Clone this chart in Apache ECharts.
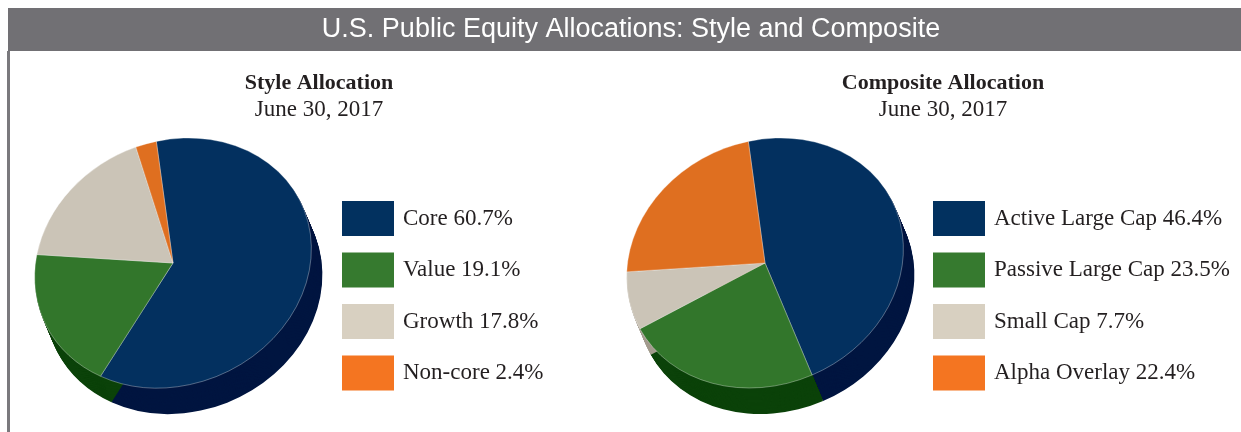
<!DOCTYPE html>
<html>
<head>
<meta charset="utf-8">
<script src="https://cdn.jsdelivr.net/npm/echarts@6/dist/echarts.min.js"></script>
<style>
  html, body { margin: 0; background: #fff; }
  #chart { width: 1241px; height: 432px; }
</style>
</head>
<body>
<div id="chart"></div>
<script>
// data
const styleNames = ['Core', 'Value', 'Growth', 'Non-core'];
const styleValues = [60.7, 19.1, 17.8, 2.4];
const compositeNames = ['Active Large Cap', 'Passive Large Cap', 'Small Cap', 'Alpha Overlay'];
const compositeValues = [46.4, 23.5, 7.7, 22.4];
const asOf = 'June 30, 2017';

// colours (same order as the slices)
const topColors = ['#03305f', '#32762b', '#cbc4b7', '#df6f20'];
const sideColors = ['#001540', '#0b4209', '#a39b8e', '#9c4a12'];
const legendColors = ['#02315f', '#367a2f', '#d8d0c1', '#f47521'];

const serif = '"Liberation Serif", "DejaVu Serif", serif';

const chart = echarts.init(document.getElementById('chart'));

// tilted pie: top sector + a stack of shifted dark copies for the rim
function pie3d(values, cx, cy) {
  const a = 141.5, b = 121.5, tilt = 24 * Math.PI / 180;
  const dx = 11, dy = 26, steps = 28;
  const total = values.reduce((s, v) => s + v, 0);
  return function (params, api) {
    const i = params.dataIndex;
    let before = 0;
    for (let k = 0; k < i; k++) before += values[k];
    const start = -76 * Math.PI / 180 + before / total * Math.PI * 2;
    const end = start + api.value(0) / total * Math.PI * 2;
    const shape = { cx: 0, cy: 0, r: a, r0: 0, startAngle: start, endAngle: end, clockwise: true };
    const children = [];
    for (let s = steps; s >= 1; s--) {
      children.push({
        type: 'sector',
        x: cx + dx * s / steps, y: cy + dy * s / steps,
        scaleY: b / a, rotation: tilt,
        shape: shape,
        style: { fill: sideColors[i] },
        z2: 1
      });
    }
    children.push({
      type: 'sector',
      x: cx, y: cy,
      scaleY: b / a, rotation: tilt,
      shape: shape,
      style: { fill: topColors[i], stroke: 'rgba(255,255,255,0.45)', lineWidth: 0.7 },
      z2: 10
    });
    return { type: 'group', children: children };
  };
}

// invisible pies only feed the legends
function legendPie(names, values) {
  return {
    type: 'pie',
    radius: [0, 0],
    center: [0, 0],
    silent: true,
    animation: false,
    label: { show: false },
    labelLine: { show: false },
    data: names.map((n, i) => ({ name: n, value: values[i], itemStyle: { color: legendColors[i] } }))
  };
}

function legendFor(names, values, left) {
  return {
    orient: 'vertical',
    left: left,
    top: 201,
    padding: 0,
    icon: 'rect',
    itemWidth: 52,
    itemHeight: 35,
    itemGap: 16.5,
    selectedMode: false,
    data: names,
    formatter: function (name) {
      return name + ' ' + values[names.indexOf(name)].toFixed(1) + '%';
    },
    textStyle: { fontFamily: serif, fontSize: 23, color: '#231f20', padding: [0, 0, 0, 4] }
  };
}

function subTitle(text, left) {
  return {
    text: text,
    subtext: asOf,
    left: left,
    top: 72,
    padding: 0,
    itemGap: 4,
    textAlign: 'center',
    textStyle: { fontFamily: serif, fontSize: 22, fontWeight: 'bold', color: '#231f20', lineHeight: 22 },
    subtextStyle: { fontFamily: serif, fontSize: 23, color: '#231f20', lineHeight: 23 }
  };
}

const options = {
  animation: false,
  backgroundColor: '#fff',
  title: [
    {
      text: 'U.S. Public Equity Allocations: Style and Composite',
      left: 631,
      top: 16,
      padding: 0,
      textAlign: 'center',
      textStyle: { fontFamily: '"Liberation Sans", Arial, sans-serif', fontSize: 27, fontWeight: 'normal', color: '#fff', lineHeight: 27 }
    },
    subTitle('Style Allocation', 319),
    subTitle('Composite Allocation', 943)
  ],
  graphic: [
    { type: 'rect', shape: { x: 8, y: 8, width: 1233, height: 43 }, style: { fill: '#717074' }, z: -1 },
    { type: 'rect', shape: { x: 7, y: 51, width: 3, height: 381 }, style: { fill: '#7a797d' }, z: -1 }
  ],
  legend: [
    legendFor(styleNames, styleValues, 342),
    legendFor(compositeNames, compositeValues, 933)
  ],
  series: [
    {
      type: 'custom',
      name: 'Style Allocation',
      coordinateSystem: 'none',
      silent: true,
      renderItem: pie3d(styleValues, 173, 263),
      data: styleValues.map(v => [v])
    },
    {
      type: 'custom',
      name: 'Composite Allocation',
      coordinateSystem: 'none',
      silent: true,
      renderItem: pie3d(compositeValues, 765, 263),
      data: compositeValues.map(v => [v])
    },
    legendPie(styleNames, styleValues),
    legendPie(compositeNames, compositeValues)
  ]
};

chart.setOption(options);
</script>
</body>
</html>
